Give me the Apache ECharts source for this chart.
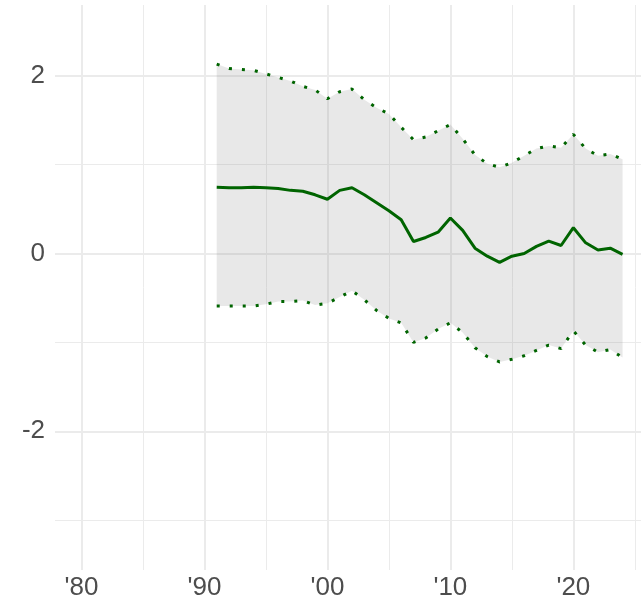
<!DOCTYPE html>
<html>
<head>
<meta charset="utf-8">
<script src="https://cdn.jsdelivr.net/npm/echarts@6/dist/echarts.min.js"></script>
<style>
html,body{margin:0;padding:0;background:#fff;}
#chart{width:641px;height:615px;}
</style>
</head>
<body>
<div id="chart"></div>
<script>
const years = [1991,1992,1993,1994,1995,1996,1997,1998,1999,2000,2001,2002,2003,2004,2005,2006,2007,2008,2009,2010,2011,2012,2013,2014,2015,2016,2017,2018,2019,2020,2021,2022,2023,2024];
const meanVals = [0.745,0.74,0.74,0.745,0.74,0.73,0.71,0.70,0.66,0.61,0.71,0.74,0.66,0.57,0.48,0.38,0.135,0.18,0.24,0.40,0.26,0.06,-0.03,-0.10,-0.03,0.0,0.08,0.14,0.09,0.29,0.12,0.04,0.06,-0.01];
const upperVals = [2.13,2.08,2.07,2.06,2.02,1.98,1.94,1.88,1.84,1.74,1.82,1.85,1.73,1.64,1.57,1.42,1.28,1.31,1.38,1.45,1.29,1.11,1.01,0.97,1.02,1.10,1.18,1.21,1.19,1.34,1.18,1.10,1.12,1.06];
const lowerVals = [-0.59,-0.59,-0.59,-0.59,-0.57,-0.54,-0.54,-0.53,-0.58,-0.56,-0.49,-0.42,-0.52,-0.64,-0.73,-0.78,-1.00,-0.95,-0.85,-0.78,-0.89,-1.06,-1.16,-1.22,-1.19,-1.15,-1.09,-1.03,-1.07,-0.87,-1.03,-1.11,-1.08,-1.17];
const xMajorTicks = [1980,1990,2000,2010,2020];
const xMinorTicks = [1985,1995,2005,2015,2025];
const yMajorTicks = [-2,0,2];
const yMinorTicks = [-3,-1,1];

const pairs = v => years.map((y,i)=>[y, v[i]]);
const GREEN = '#006400';
const GRID = '#ebebeb';
const FONT = 'Liberation Sans, Arial, sans-serif';

const gridLines = [];
xMajorTicks.forEach(v=>gridLines.push({xAxis:v, lineStyle:{width:2}}));
xMinorTicks.forEach(v=>gridLines.push({xAxis:v, lineStyle:{width:1}}));
yMajorTicks.forEach(v=>gridLines.push({yAxis:v, lineStyle:{width:2}}));
yMinorTicks.forEach(v=>gridLines.push({yAxis:v, lineStyle:{width:1}}));

const bandData = years.map((y,i)=>[y, lowerVals[i], upperVals[i]]);

const chart = echarts.init(document.getElementById('chart'), null, {renderer:'canvas'});
chart.setOption({
  animation:false,
  backgroundColor:'#ffffff',
  grid:{left:55, right:0, top:5, bottom:45, containLabel:false, outerBoundsMode:'none'},
  xAxis:{
    type:'value', min:1977.85, max:2025.5,
    axisLine:{show:false}, axisTick:{show:false}, splitLine:{show:false},
    axisLabel:{
      customValues:xMajorTicks,
      formatter:v=>"'"+String(v).slice(2),
      color:'#4d4d4d', fontSize:26, fontFamily:FONT, margin:5
    }
  },
  yAxis:{
    type:'value', min:-3.56, max:2.795,
    axisLine:{show:false}, axisTick:{show:false}, splitLine:{show:false},
    axisLabel:{
      customValues:yMajorTicks,
      formatter:v=>String(v),
      color:'#4d4d4d', fontSize:26, fontFamily:FONT, margin:10
    }
  },
  series:[
    {
      name:'grid', type:'line', data:[], symbol:'none', z:0, silent:true,
      markLine:{silent:true, symbol:'none', label:{show:false}, z:0, animation:false,
        lineStyle:{color:GRID, type:'solid'}, data:gridLines}
    },
    {
      name:'band', type:'custom', data:bandData, z:2, silent:true,
      encode:{x:0, y:[1,2]},
      renderItem:function(params, api){
        if (params.dataIndex !== 0) return null;
        const top = [], bot = [];
        for (let i=0;i<bandData.length;i++){
          top.push(api.coord([bandData[i][0], bandData[i][2]]));
          bot.push(api.coord([bandData[i][0], bandData[i][1]]));
        }
        return {type:'polygon', shape:{points: top.concat(bot.reverse())},
          style:{fill:'rgba(127,127,127,0.18)', stroke:null}};
      }
    },
    {
      name:'upper', type:'line', data:pairs(upperVals), symbol:'none', z:3,
      lineStyle:{color:GREEN, width:3, type:[3,10], cap:'butt'}
    },
    {
      name:'lower', type:'line', data:pairs(lowerVals), symbol:'none', z:3,
      lineStyle:{color:GREEN, width:3, type:[3,10], cap:'butt'}
    },
    {
      name:'mean', type:'line', data:pairs(meanVals), symbol:'none', z:4,
      lineStyle:{color:GREEN, width:3}
    }
  ]
});
</script>
</body>
</html>
